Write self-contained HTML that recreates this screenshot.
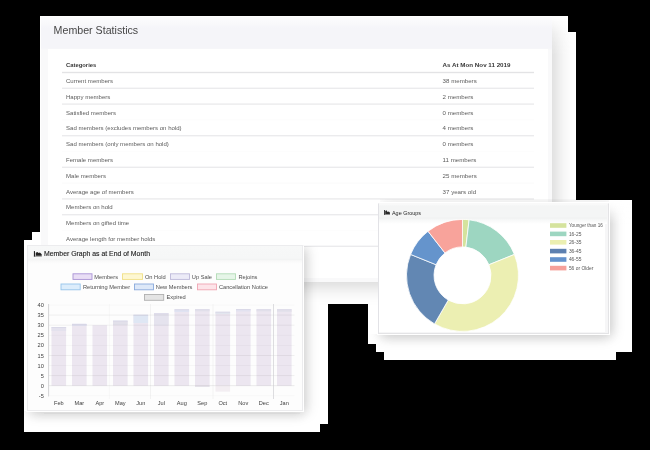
<!DOCTYPE html>
<html><head><meta charset="utf-8">
<style>
*{margin:0;padding:0;box-sizing:border-box}
html,body{width:650px;height:450px;overflow:hidden;background:#fff;position:relative;font-family:"Liberation Sans",sans-serif}
#root{position:absolute;left:0;top:0;width:650px;height:450px;will-change:transform}
.w{position:absolute;background:#fff}
#content{position:absolute;left:0;top:0;width:650px;height:450px;filter:blur(0.3px)}
.k{position:absolute;background:#000}
.a{position:absolute;white-space:nowrap}
svg.a{left:0;top:0}
</style></head><body><div id="root"><div id="content">
<!-- ===== card 1: member statistics ===== -->
<div class="a" style="left:40px;top:16px;width:512px;height:265.5px;box-shadow:4px 4px 18px rgba(0,0,0,0.18);clip-path:inset(-40px -40px -40px 0)"></div>
<div class="a" style="left:552px;top:16px;width:24px;height:40px;background:linear-gradient(180deg,rgba(255,255,255,.85) 0,rgba(255,255,255,.4) 16px,rgba(255,255,255,0) 40px)"></div>
<div class="a" style="left:40px;top:16px;width:512px;height:265.5px;background:linear-gradient(180deg,#fcfcfd 0,#f9f9fb 6px,#f5f5f9 11px,#f5f5f9 31px,#f9f9fa 33px,#f9f9fa 100%);border-top:1px solid #fff;border-left:1px solid #fff"></div>
<svg class="a" width="650" height="60" viewBox="0 0 650 60"><text x="53.6" y="33.6" font-family="Liberation Sans" font-size="10.3" fill="#474747" textLength="84.6" lengthAdjust="spacingAndGlyphs">Member Statistics</text></svg>
<div class="a" style="left:47.5px;top:48.5px;width:500.5px;height:229px;background:#fff;box-shadow:-0.5px -0.5px 1px rgba(0,0,0,0.05)"></div>
<svg class="a" width="650" height="450" viewBox="0 0 650 450">
<text x="66" y="67" font-family="Liberation Sans" font-size="6" font-weight="bold" fill="#383838" textLength="30.3" lengthAdjust="spacingAndGlyphs">Categories</text>
<text x="442.6" y="67" font-family="Liberation Sans" font-size="6.1" font-weight="bold" fill="#383838" textLength="67.9" lengthAdjust="spacingAndGlyphs">As At Mon Nov 11 2019</text>
<rect x="62" y="71.8" width="472" height="1.4" fill="#e3e3e5"/>
<rect x="62" y="87.6" width="472" height="1.4" fill="#ebebed"/>
<rect x="62" y="103.4" width="472" height="1.4" fill="#ebebed"/>
<rect x="62" y="119.2" width="472" height="1.4" fill="#fdfdfd"/>
<rect x="62" y="135.0" width="472" height="1.4" fill="#ebebed"/>
<rect x="62" y="150.8" width="472" height="1.4" fill="#fdfdfd"/>
<rect x="62" y="166.6" width="472" height="1.4" fill="#ebebed"/>
<rect x="62" y="182.4" width="472" height="1.4" fill="#fcfcfc"/>
<rect x="62" y="198.2" width="472" height="1.4" fill="#ebebed"/>
<rect x="62" y="214.0" width="472" height="1.4" fill="#ebebed"/>
<rect x="62" y="229.8" width="472" height="1.4" fill="#fdfdfd"/>
<rect x="62" y="245.6" width="472" height="1.4" fill="#ebebed"/>
<g font-family="Liberation Sans" font-size="6.05" fill="#5c5c5c">
<text x="66" y="83.0">Current members</text>
<text x="66" y="98.8">Happy members</text>
<text x="66" y="114.6">Satisfied members</text>
<text x="66" y="130.4">Sad members (excludes members on hold)</text>
<text x="66" y="146.2">Sad members (only members on hold)</text>
<text x="66" y="162.0">Female members</text>
<text x="66" y="177.8">Male members</text>
<text x="66" y="193.6">Average age of members</text>
<text x="66" y="209.4">Members on hold</text>
<text x="66" y="225.2">Members on gifted time</text>
<text x="66" y="241.0">Average length for member holds</text>
</g><g font-family="Liberation Sans" font-size="6.15" fill="#5c5c5c">
<text x="442.6" y="83.0">38 members</text>
<text x="442.6" y="98.8">2 members</text>
<text x="442.6" y="114.6">0 members</text>
<text x="442.6" y="130.4">4 members</text>
<text x="442.6" y="146.2">0 members</text>
<text x="442.6" y="162.0">11 members</text>
<text x="442.6" y="177.8">25 members</text>
<text x="442.6" y="193.6">37 years old</text>
<text x="442.6" y="209.4">0 members</text>
</g>
</svg>

<!-- ===== card 3: age groups ===== -->
<div class="a" style="left:378px;top:203px;width:231px;height:131px;box-shadow:0 0 0 1px #fff,4px 2px 12px rgba(0,0,0,0.15),1px 5px 12px rgba(0,0,0,0.10);clip-path:polygon(2px -4px,260px -4px,260px 180px,-10px 180px,-10px 131px,2px 131px)"></div>
<div class="a" style="left:609px;top:198px;width:23px;height:26px;background:linear-gradient(180deg,rgba(255,255,255,1) 0,rgba(255,255,255,.7) 10px,rgba(255,255,255,0) 26px)"></div>
<div class="a" style="left:378px;top:203px;width:231px;height:131px;background:#fff;border-left:1px solid #e2e2e6;border-top:1px solid #f9f9f9;border-right:1px solid #e4e4e6;border-bottom:1px solid #e4e4e6;box-shadow:inset -3px -1px 0 #f6f6f7"></div>
<div class="a" style="left:379px;top:204px;width:228px;height:20px;background:linear-gradient(180deg,#fafafa 0,#f4f5f5 2px,#f4f5f5 13px,#f0f1f1 14px,#f7f8f8 16px,#fff 20px)"></div>
<svg class="a" width="650" height="450" viewBox="0 0 650 450">
<g transform="translate(384,210)" fill="#2a2a2a"><rect x="0" y="0" width="0.9" height="4.7"/><rect x="0" y="4" width="6" height="0.7" fill-opacity="0.7"/><path d="M1.2 4L1.2 0.9L2.5 0.3L3.6 2L4.8 1.4L5.9 2.4L5.9 4Z"/></g>
<text x="392" y="214.6" font-family="Liberation Sans" font-size="6" fill="#262626" textLength="29" lengthAdjust="spacingAndGlyphs">Age Groups</text>
<path d="M462.50 219.40A56 56 0 0 1 469.13 219.79L465.87 247.10A28.5 28.5 0 0 0 462.50 246.90Z" fill="#d5e39d" stroke="#fff" stroke-width="0.8"/>
<path d="M469.13 219.79A56 56 0 0 1 514.42 254.42L488.92 264.72A28.5 28.5 0 0 0 465.87 247.10Z" fill="#9dd6c1" stroke="#fff" stroke-width="0.8"/>
<path d="M514.42 254.42A56 56 0 0 1 434.50 323.90L448.25 300.08A28.5 28.5 0 0 0 488.92 264.72Z" fill="#ecefb2" stroke="#fff" stroke-width="0.8"/>
<path d="M434.50 323.90A56 56 0 0 1 410.58 254.42L436.08 264.72A28.5 28.5 0 0 0 448.25 300.08Z" fill="#6287b3" stroke="#fff" stroke-width="0.8"/>
<path d="M410.58 254.42A56 56 0 0 1 428.02 231.27L444.95 252.94A28.5 28.5 0 0 0 436.08 264.72Z" fill="#6594cc" stroke="#fff" stroke-width="0.8"/>
<path d="M428.02 231.27A56 56 0 0 1 462.50 219.40L462.50 246.90A28.5 28.5 0 0 0 444.95 252.94Z" fill="#f8a39b" stroke="#fff" stroke-width="0.8"/>
<rect x="550" y="223.2" width="16.4" height="4.6" fill="#d5e39d"/>
<rect x="550" y="231.6" width="16.4" height="4.6" fill="#9dd6c1"/>
<rect x="550" y="240" width="16.4" height="4.6" fill="#ebefb1"/>
<rect x="550" y="248.8" width="16.4" height="4.6" fill="#5d80b0"/>
<rect x="550" y="257.2" width="16.4" height="4.6" fill="#6492cc"/>
<rect x="550" y="265.8" width="16.4" height="4.6" fill="#f6a09a"/>
<g font-family="Liberation Sans" font-size="4.9" fill="#555">
<text x="568.9" y="227.4" textLength="33.9" lengthAdjust="spacingAndGlyphs">Younger than 16</text>
<text x="568.9" y="235.8">16-25</text>
<text x="568.9" y="244.2">26-35</text>
<text x="568.9" y="253">36-45</text>
<text x="568.9" y="261.4">46-55</text>
<text x="568.9" y="270">56 or Older</text>
</g>
</svg>

<!-- ===== card 2: bar chart ===== -->
<div class="a" style="left:44px;top:413px;width:256px;height:1.2px;background:rgba(0,0,0,0.035)"></div>
<div class="a" style="left:27px;top:245px;width:276px;height:166px;box-shadow:0 0 0 1px #fff,4px 2px 12px rgba(0,0,0,0.15),1px 5px 12px rgba(0,0,0,0.09);clip-path:polygon(2px 1px,310px 1px,310px 210px,-10px 210px,-10px 166px,2px 166px)"></div>
<div class="a" style="left:27px;top:245px;width:276px;height:166px;background:#fdfdfd;border:1px solid #ececee"></div>
<div class="a" style="left:28px;top:246px;width:274px;height:18px;background:linear-gradient(180deg,#f7f8f8 0,#f6f7f7 12px,#f3f4f4 13.5px,#f9f9f9 15px,#fdfdfd 18px)"></div>
<svg class="a" width="650" height="450" viewBox="0 0 650 450">
<g transform="translate(33.9,251.1)" fill="#222"><rect x="0" y="0" width="1.1" height="5.4"/><rect x="0" y="4.7" width="7.9" height="0.7" fill-opacity="0.7"/><path d="M1.8 4.7L1.8 1.6L3.4 0.9L4.8 1.9L6 1.5L7.8 3.2L7.8 4.7Z"/></g>
<text x="44" y="256.4" font-family="Liberation Sans" font-size="6.4" fill="#222" stroke="#222" stroke-width="0.12" textLength="106" lengthAdjust="spacingAndGlyphs">Member Graph as at End of Month</text>
<g stroke-width="0.9">
<rect x="73" y="273.8" width="19" height="5.6" fill="#e9def5" stroke="#a892d4"/>
<rect x="122.5" y="273.8" width="20" height="5.6" fill="#fdf7d2" stroke="#f0df86"/>
<rect x="170.5" y="273.8" width="19" height="5.6" fill="#ecebf7" stroke="#bdb9d9"/>
<rect x="216.5" y="273.8" width="19" height="5.6" fill="#e6f5e8" stroke="#b2dbb6"/>
<rect x="61" y="284" width="19.2" height="5.8" fill="#dcedfb" stroke="#94c3ea"/>
<rect x="134.5" y="284" width="19" height="5.8" fill="#dde8f8" stroke="#8aaadc"/>
<rect x="197.5" y="284" width="19" height="5.8" fill="#fde4e9" stroke="#f0a5b3"/>
<rect x="144.5" y="294.5" width="19.2" height="5.8" fill="#e4e4e4" stroke="#b0b0b0"/>
</g>
<g font-family="Liberation Sans" font-size="5.7" fill="#4d4d4d">
<text x="94.3" y="278.6">Members</text>
<text x="144.9" y="278.6">On Hold</text>
<text x="191.8" y="278.6">Up Sale</text>
<text x="238.5" y="278.6">Rejoins</text>
<text x="83" y="289">Returning Member</text>
<text x="155.8" y="289">New Members</text>
<text x="218.9" y="289">Cancellation Notice</text>
<text x="166.5" y="299.4">Expired</text>
</g>

<g>
<rect x="51.5" y="327.2" width="14.6" height="58.5" fill="#ece6f0"/>
<rect x="51.5" y="327.2" width="14.6" height="3.8" fill="#e4e2ee"/>
<rect x="51.5" y="327.2" width="14.6" height="0.8" fill="#d8d6e6"/>
<rect x="72.0" y="323.9" width="14.6" height="61.8" fill="#ece6f0"/>
<rect x="72.0" y="323.9" width="14.6" height="2.1" fill="#e3e3f3"/>
<rect x="72.0" y="323.9" width="14.6" height="0.8" fill="#d8d6e6"/>
<rect x="92.5" y="325.2" width="14.6" height="60.5" fill="#ece6f0"/>
<rect x="113.0" y="320.7" width="14.6" height="65.0" fill="#ece6f0"/>
<rect x="113.0" y="320.7" width="14.6" height="4.3" fill="#e2e0ea"/>
<rect x="113.0" y="320.7" width="14.6" height="0.8" fill="#d8d6e6"/>
<rect x="133.5" y="314.8" width="14.6" height="70.9" fill="#ece6f0"/>
<rect x="133.5" y="314.8" width="14.6" height="8.2" fill="#dfe7f4"/>
<rect x="133.5" y="314.8" width="14.6" height="0.8" fill="#d8d6e6"/>
<rect x="154.0" y="313.4" width="14.6" height="72.3" fill="#ece6f0"/>
<rect x="154.0" y="313.4" width="14.6" height="12.2" fill="#e5e3ee"/>
<rect x="154.0" y="313.4" width="14.6" height="0.8" fill="#d8d6e6"/>
<rect x="174.5" y="309.4" width="14.6" height="76.3" fill="#ece6f0"/>
<rect x="174.5" y="309.4" width="14.6" height="2.6" fill="#e0e3f2"/>
<rect x="174.5" y="309.4" width="14.6" height="0.8" fill="#d8d6e6"/>
<rect x="195.0" y="309.4" width="14.6" height="76.3" fill="#ece6f0"/>
<rect x="195.0" y="309.4" width="14.6" height="2.1" fill="#e4e2ec"/>
<rect x="195.0" y="309.4" width="14.6" height="0.8" fill="#d8d6e6"/>
<rect x="195.0" y="385.7" width="14.6" height="1" fill="#dcd8e2"/>
<rect x="215.5" y="311.8" width="14.6" height="73.9" fill="#ece6f0"/>
<rect x="215.5" y="311.8" width="14.6" height="2.2" fill="#e2e6ee"/>
<rect x="215.5" y="311.8" width="14.6" height="0.8" fill="#d8d6e6"/>
<rect x="215.5" y="385.7" width="14.6" height="6" fill="#f3eef2"/>
<rect x="236.0" y="309.2" width="14.6" height="76.5" fill="#ece6f0"/>
<rect x="236.0" y="309.2" width="14.6" height="2.3" fill="#e2e2f0"/>
<rect x="236.0" y="309.2" width="14.6" height="0.8" fill="#d8d6e6"/>
<rect x="256.5" y="309.4" width="14.6" height="76.3" fill="#ece6f0"/>
<rect x="256.5" y="309.4" width="14.6" height="2.1" fill="#e4e2ec"/>
<rect x="256.5" y="309.4" width="14.6" height="0.8" fill="#d8d6e6"/>
<rect x="277.0" y="309.4" width="14.6" height="76.3" fill="#ece6f0"/>
<rect x="277.0" y="309.4" width="14.6" height="2.6" fill="#e4e2ec"/>
<rect x="277.0" y="309.4" width="14.6" height="0.8" fill="#d8d6e6"/>
</g>
<g stroke="#000" stroke-width="0.8">
<line x1="48.6" y1="305.1" x2="294.5" y2="305.1" stroke-opacity="0.03"/>
<line x1="48.6" y1="315.1" x2="294.5" y2="315.1" stroke-opacity="0.08"/>
<line x1="48.6" y1="325.2" x2="294.5" y2="325.2" stroke-opacity="0.07"/>
<line x1="48.6" y1="335.3" x2="294.5" y2="335.3" stroke-opacity="0.035"/>
<line x1="48.6" y1="345.4" x2="294.5" y2="345.4" stroke-opacity="0.04"/>
<line x1="48.6" y1="355.5" x2="294.5" y2="355.5" stroke-opacity="0.07"/>
<line x1="48.6" y1="365.5" x2="294.5" y2="365.5" stroke-opacity="0.04"/>
<line x1="48.6" y1="375.6" x2="294.5" y2="375.6" stroke-opacity="0.08"/>
<line x1="48.6" y1="385.7" x2="294.5" y2="385.7" stroke-opacity="0.1"/>
<line x1="48.6" y1="395.8" x2="294.5" y2="395.8" stroke-opacity="0.03"/>
<line x1="109.3" y1="304" x2="109.3" y2="399" stroke-opacity="0.04"/>
<line x1="150.5" y1="304" x2="150.5" y2="399" stroke-opacity="0.06"/>
<line x1="213" y1="304" x2="213" y2="399" stroke-opacity="0.05"/>
</g>
<line x1="48.6" y1="304" x2="48.6" y2="396.5" stroke="#c8c8cc" stroke-width="0.8"/>
<line x1="273.5" y1="304" x2="273.5" y2="399" stroke="#c8c8cc" stroke-width="0.6"/>
<g font-family="Liberation Sans" font-size="5.6" fill="#404040" text-anchor="end">
<text x="43.8" y="307.1">40</text>
<text x="43.8" y="317.1">35</text>
<text x="43.8" y="327.2">30</text>
<text x="43.8" y="337.3">25</text>
<text x="43.8" y="347.4">20</text>
<text x="43.8" y="357.5">15</text>
<text x="43.8" y="367.5">10</text>
<text x="43.8" y="377.6">5</text>
<text x="43.8" y="387.7">0</text>
<text x="43.8" y="397.8">-5</text>
</g>
<g font-family="Liberation Sans" font-size="5.6" fill="#404040" text-anchor="middle">
<text x="58.8" y="405.3">Feb</text>
<text x="79.3" y="405.3">Mar</text>
<text x="99.8" y="405.3">Apr</text>
<text x="120.3" y="405.3">May</text>
<text x="140.8" y="405.3">Jun</text>
<text x="161.3" y="405.3">Jul</text>
<text x="181.8" y="405.3">Aug</text>
<text x="202.3" y="405.3">Sep</text>
<text x="222.8" y="405.3">Oct</text>
<text x="243.3" y="405.3">Nov</text>
<text x="263.8" y="405.3">Dec</text>
<text x="284.3" y="405.3">Jan</text>
</g>
</svg>
</div>
<!-- black transparent regions -->
<div class="k" style="left:0;top:0;width:650px;height:16px"></div>
<div class="k" style="left:0;top:16px;width:40px;height:216px"></div>
<div class="k" style="left:0;top:232px;width:32px;height:8px"></div>
<div class="k" style="left:0;top:240px;width:24px;height:210px"></div>
<div class="k" style="left:568px;top:16px;width:82px;height:16px"></div>
<div class="k" style="left:576px;top:32px;width:74px;height:168px"></div>
<div class="k" style="left:632px;top:200px;width:18px;height:152px"></div>
<div class="k" style="left:616px;top:352px;width:34px;height:8px"></div>
<div class="k" style="left:328px;top:360px;width:322px;height:64px"></div>
<div class="k" style="left:320px;top:424px;width:330px;height:8px"></div>
<div class="k" style="left:0;top:432px;width:650px;height:18px"></div>
<div class="k" style="left:328px;top:304px;width:40px;height:40px"></div>
<div class="k" style="left:328px;top:344px;width:48px;height:8px"></div>
<div class="k" style="left:328px;top:352px;width:56px;height:8px"></div>
</div></body></html>
